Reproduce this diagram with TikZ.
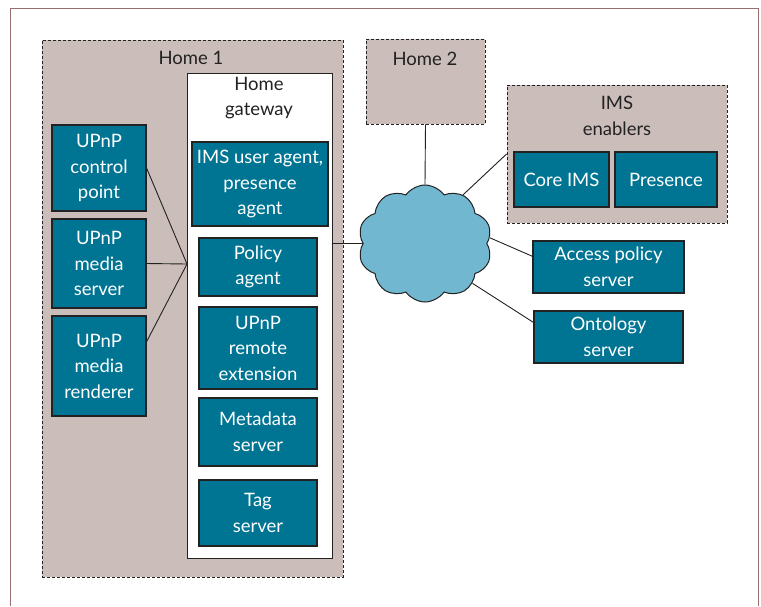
\documentclass[tikz,border=0pt]{standalone}
\usepackage{fontspec}
\setmainfont{Lato}
\usetikzlibrary{shapes.symbols,calc}
\definecolor{teal1}{HTML}{007593}
\definecolor{beige}{HTML}{CBBDB9}
\definecolor{cloudc}{HTML}{72B7D0}
\definecolor{framec}{HTML}{9A6E6E}
\definecolor{ink}{HTML}{222222}
\tikzset{
  tbox/.style={draw=ink, line width=1.1pt, fill=teal1, text=white, align=center, inner sep=0pt,
     font=\fontsize{18.5}{25.5}\selectfont},
  dbox/.style={draw=ink, line width=0.8pt, dash pattern=on 3pt off 2pt, fill=beige, inner sep=0pt},
  lbl/.style={text=ink, align=center, font=\fontsize{18.5}{25.5}\selectfont},
  conn/.style={draw=ink, line width=0.9pt},
}
\begin{document}
\begin{tikzpicture}[x=1pt,y=-1pt]
\useasboundingbox (0,0) rectangle (761,606);
\fill[white] (0,0) rectangle (761,606);
\draw[framec, line width=1pt] (10,606) -- (10,8) -- (758,8) -- (758,606);
% Home 1
\node[dbox, minimum width=301, minimum height=537] (home1) at (192.5,308.5) {};
\node[lbl] (home1l) at (191,58) {Home 1};
\node[draw=ink, line width=1pt, fill=white, minimum width=145, minimum height=485, inner sep=0pt] (gw) at (259.5,315.5) {};
\node[lbl] (gwl) at (259,98) {Home\\gateway};
\node[tbox, minimum width=136, minimum height=84] (ua) at (260,184) {IMS user agent,\\presence\\agent};
\node[tbox, minimum width=118, minimum height=58] (pol) at (258,267) {Policy\\agent};
\node[tbox, minimum width=118, minimum height=82] (rem) at (258,348) {UPnP\\remote\\extension};
\node[tbox, minimum width=118, minimum height=68] (meta) at (258,432) {Metadata\\server};
\node[tbox, minimum width=118, minimum height=66] (tag) at (258,513) {Tag\\server};
\node[tbox, minimum width=94, minimum height=86] (cp) at (99,168) {UPnP\\control\\point};
\node[tbox, minimum width=94, minimum height=89] (ms) at (99,263.5) {UPnP\\media\\server};
\node[tbox, minimum width=94, minimum height=100] (mr) at (99,366) {UPnP\\media\\renderer};
\coordinate (j) at (187,264);
\draw[conn] (cp.east) -- (j);
\draw[conn] (ms.east) -- (j);
\draw[conn] (mr.27) -- (j);
% Home 2
\node[dbox, minimum width=119, minimum height=85] (home2) at (425.5,81.5) {};
\node[lbl] (home2l) at (425,59) {Home 2};
% IMS enablers
\node[dbox, minimum width=220, minimum height=138] (ims) at (617,154) {};
\node[lbl] (imsl) at (617,116) {IMS\\enablers};
\node[tbox, minimum width=95, minimum height=55] (core) at (561.5,179.5) {Core IMS};
\node[tbox, minimum width=102, minimum height=55] (pres) at (666,179.5) {Presence};
% cloud
\node[cloud, cloud puffs=10, cloud puff arc=110, aspect=1.15, draw=ink, line width=1pt, fill=cloudc,
  minimum width=134, minimum height=117, inner sep=0pt] (cloud) at (425,243.5) {};
\node[tbox, minimum width=151, minimum height=52] (aps) at (608.5,267) {Access policy\\server};
\node[tbox, minimum width=149, minimum height=52] (onto) at (608.5,337) {Ontology\\server};
\draw[conn] (home2.south) -- (cloud.north);
\draw[conn] (cloud.west) -- (cloud.west -| gw.east);
\draw[conn] (cloud.52) -- (ims.west);
\draw[conn] (cloud.5) -- (aps.172);
\draw[conn] (cloud.-40) -- (onto.169);
\end{tikzpicture}
\end{document}
